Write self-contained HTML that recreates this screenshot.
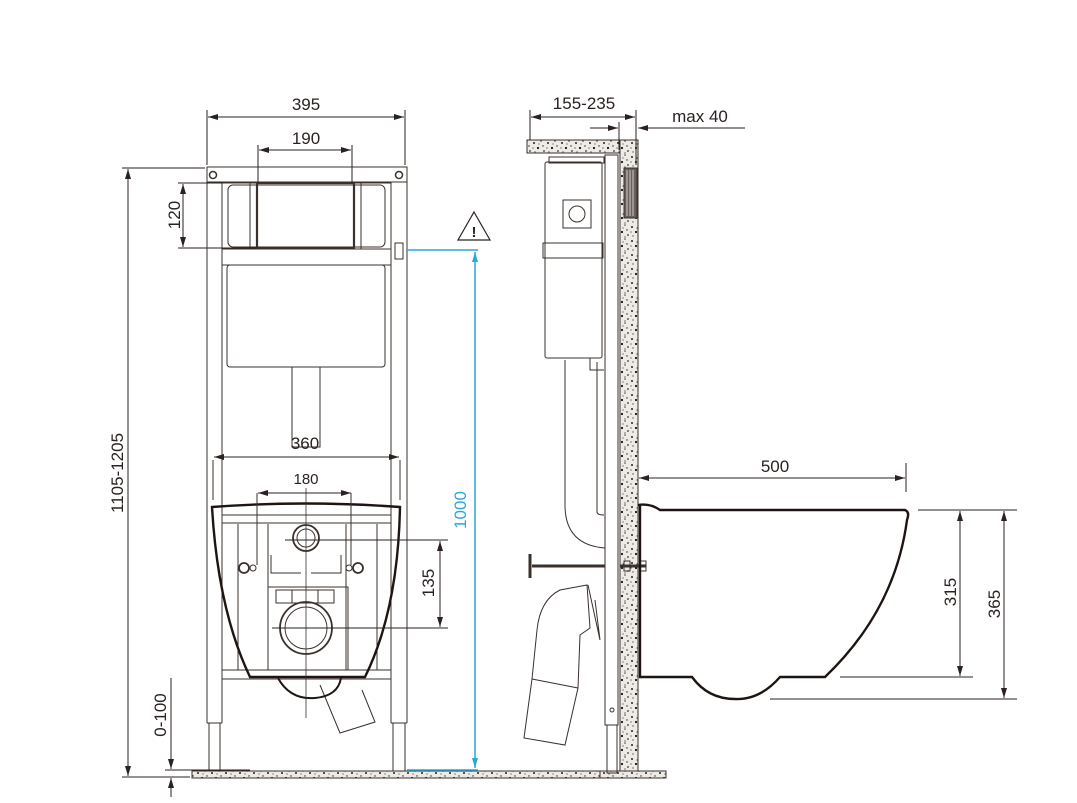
<!DOCTYPE html>
<html><head><meta charset="utf-8"><style>
html,body{margin:0;padding:0;background:#fff;}
svg{display:block;}
text{font-family:"Liberation Sans",sans-serif;font-size:17px;fill:#2a2220;}
</style></head><body>
<svg width="1077" height="803" viewBox="0 0 1077 803" xmlns="http://www.w3.org/2000/svg">
<defs>
<marker id="a" viewBox="0 0 10 6" refX="10" refY="3" markerWidth="10" markerHeight="6" orient="auto-start-reverse" markerUnits="userSpaceOnUse"><path d="M0,0 L10,3 L0,6 z" fill="#2a2220"/></marker>
<marker id="b" viewBox="0 0 10 6" refX="10" refY="3" markerWidth="10" markerHeight="6" orient="auto-start-reverse" markerUnits="userSpaceOnUse"><path d="M0,0 L10,3 L0,6 z" fill="#29a8d8"/></marker>
<pattern id="sp" width="14" height="14" patternUnits="userSpaceOnUse">
<rect width="14" height="14" fill="#eeebe7"/>
<circle cx="2" cy="3" r="1" fill="#222"/><circle cx="9" cy="1" r="0.8" fill="#444"/><circle cx="6" cy="8" r="1.1" fill="#111"/><circle cx="12" cy="11" r="0.9" fill="#333"/><circle cx="3" cy="12" r="0.7" fill="#555"/><circle cx="11" cy="6" r="0.7" fill="#222"/><circle cx="7" cy="4" r="0.6" fill="#444"/><circle cx="1" cy="8" r="0.6" fill="#333"/><circle cx="9" cy="13" r="0.6" fill="#222"/>
</pattern>
</defs>
<g fill="none" stroke="#3a302c" stroke-width="1">
<rect x="207" y="167" width="200" height="15"/>
<circle cx="213" cy="175" r="3.5" stroke-width="1.5"/><circle cx="399" cy="175" r="3.5" stroke-width="1.5"/>
<path d="M207 167 V723 M222 182 V723 M207 723 H222 M391 182 V723 M407 167 V723 M391 723 H407"/>
<path d="M209 723 V773 M220 723 V773 M393 723 V773 M405 723 V773"/>
<rect x="222" y="183" width="169" height="66"/>
<rect x="228" y="185" width="157" height="62" rx="5"/>
<rect x="250" y="183" width="111" height="66"/>
<rect x="257" y="183" width="97" height="65" stroke-width="2.2"/>
<rect x="222" y="249" width="169" height="16"/>
<rect x="227" y="265" width="158" height="102" rx="3"/>
<rect x="292" y="367" width="28" height="80"/>
<rect x="395" y="243" width="8" height="16"/>
<path d="M222 370 V395 M391 370 V395"/>
<rect x="222" y="515" width="169" height="8"/>
<rect x="222" y="670" width="169" height="9"/>
<path d="M238 524 V670 M268 524 V670 M346 524 V670 M377 524 V670"/>
<path d="M271 555 V573 H301 M341 555 V573 H311"/>
<rect x="268" y="587" width="80" height="83"/>
<path d="M276 590 H334 V603 H276 Z M292 590 V603 M318 590 V603"/>
<circle cx="306" cy="538" r="13" stroke-width="1.8"/><circle cx="306" cy="538" r="9"/>
<circle cx="306" cy="628" r="26" stroke-width="1.8"/><circle cx="306" cy="628" r="21"/>
<circle cx="244" cy="568" r="5" stroke-width="1.8"/><circle cx="253" cy="568" r="3"/>
<circle cx="358" cy="568" r="5" stroke-width="1.8"/><circle cx="349" cy="568" r="3"/>
<path d="M320 685 L340 733 L375 722 L362 690" />
<path d="M212 507 Q305 500 400 507 Q398 610 365 677 H250 Q218 610 212 507 Z" stroke="#1e1512" stroke-width="2.4"/>
<path d="M278 678 Q290 700 315 698 Q338 696 341 678" stroke="#1e1512" stroke-width="2"/>
<path d="M306 488 V718" stroke-width="0.8"/>
<path d="M257 493 V565 M351 493 V565 M213 460 V500 M400 460 V500"/>
<rect x="192" y="771" width="426" height="7" fill="url(#sp)"/>
<rect x="527" y="140" width="93" height="13" fill="url(#sp)"/>
<rect x="620" y="140" width="18" height="636" fill="url(#sp)"/>
<rect x="600" y="771" width="66" height="7" fill="url(#sp)"/>
<rect x="624" y="168" width="13" height="50" fill="#6a605a"/>
<path d="M627 170 V216 M630 170 V216 M633 170 V216" stroke="#ccc"/>
<rect x="605" y="155" width="13" height="570"/>
<rect x="607" y="725" width="10" height="48"/>
<circle cx="612" cy="710" r="2"/>
<rect x="545" y="162" width="57" height="196" rx="2"/>
<rect x="549" y="157" width="55" height="6"/>
<rect x="543" y="243" width="60" height="15"/>
<rect x="563" y="200" width="28" height="28"/><circle cx="577" cy="214" r="8"/>
<path d="M565 360 V505 Q565 545 605 548 M597 362 V512 Q597 515 604 515 M590 358 V370 H604"/>
<path d="M532 566 H605" stroke-width="3"/><path d="M530 554 V578" stroke-width="3"/>
<path d="M620 566 H646" stroke-width="3"/><rect x="624" y="561" width="6" height="10"/><rect x="640" y="561" width="6" height="10"/>
<path d="M560 590 Q540 600 537 630 L532 679 L524 738 L565 745 L578 688 L580 635 L590 628 L587 585 Z"/>
<path d="M532 679 L578 688 M588 585 L600 640 L595 600"/>
<path d="M638 505 Q650 503 660 510 H905 Q910 512 907 520 Q895 610 825 677 H780 Q760 700 735 699 Q708 699 692 677 H640 V505" stroke="#1e1512" stroke-width="2.4"/>
</g>
<g stroke="#2a2220" stroke-width="1" fill="none">
<path d="M207 110 V165 M405 110 V165"/>
<path d="M208 117 H404" marker-start="url(#a)" marker-end="url(#a)"/>
<path d="M258 145 V183 M352 145 V183"/>
<path d="M259 150 H351" marker-start="url(#a)" marker-end="url(#a)"/>
<path d="M178 183 H222 M178 248 H257"/>
<path d="M183 184 V247" marker-start="url(#a)" marker-end="url(#a)"/>
<path d="M122 168 H205 M122 777 H190"/>
<path d="M128 169 V776" marker-start="url(#a)" marker-end="url(#a)"/>
<path d="M171 678 V769" marker-end="url(#a)"/>
<path d="M171 797 V778" marker-end="url(#a)"/>
<path d="M165 770 H250"/>
<path d="M214 457 H399" marker-start="url(#a)" marker-end="url(#a)"/>
<path d="M258 493 H351" marker-start="url(#a)" marker-end="url(#a)"/>
<path d="M285 540 H448 M272 628 H448"/>
<path d="M440 541 V627" marker-start="url(#a)" marker-end="url(#a)"/>
<path d="M530 110 V140 M636 110 V165"/>
<path d="M531 117 H635" marker-start="url(#a)" marker-end="url(#a)"/>
<path d="M619 122 V150"/>
<path d="M590 128 H618" marker-end="url(#a)"/>
<path d="M745 128 H638" marker-end="url(#a)"/>
<path d="M906 463 V492"/>
<path d="M639 478 H905" marker-start="url(#a)" marker-end="url(#a)"/>
<path d="M918 510 H1017 M840 677 H973 M770 699 H1017"/>
<path d="M960 511 V676" marker-start="url(#a)" marker-end="url(#a)"/>
<path d="M1004 511 V698" marker-start="url(#a)" marker-end="url(#a)"/>
</g>
<g stroke="#29a8d8" stroke-width="1.5" fill="none">
<path d="M407 250 H478 M407 770 H478"/>
<path d="M475 252 V768" marker-start="url(#b)" marker-end="url(#b)"/>
</g>
<path d="M474 212 L490 240 L458 240 Z" fill="#fff" stroke="#2a2220" stroke-width="1.2"/>
<text x="474" y="237" text-anchor="middle" style="font-size:15px;font-weight:bold">!</text>
<text x="306" y="110" text-anchor="middle">395</text>
<text x="306" y="144" text-anchor="middle">190</text>
<text x="305" y="449" text-anchor="middle">360</text>
<text x="306" y="484" text-anchor="middle" style="font-size:15px">180</text>
<text x="584" y="109" text-anchor="middle">155-235</text>
<text x="700" y="122" text-anchor="middle">max 40</text>
<text x="775" y="472" text-anchor="middle">500</text>
<text transform="translate(180,215) rotate(-90)" text-anchor="middle">120</text>
<text transform="translate(123,473) rotate(-90)" text-anchor="middle">1105-1205</text>
<text transform="translate(166,715) rotate(-90)" text-anchor="middle">0-100</text>
<text transform="translate(434,583) rotate(-90)" text-anchor="middle">135</text>
<text transform="translate(466,510) rotate(-90)" text-anchor="middle" style="fill:#29a8d8">1000</text>
<text transform="translate(956,592) rotate(-90)" text-anchor="middle">315</text>
<text transform="translate(1000,604) rotate(-90)" text-anchor="middle">365</text>
</svg>
</body></html>
